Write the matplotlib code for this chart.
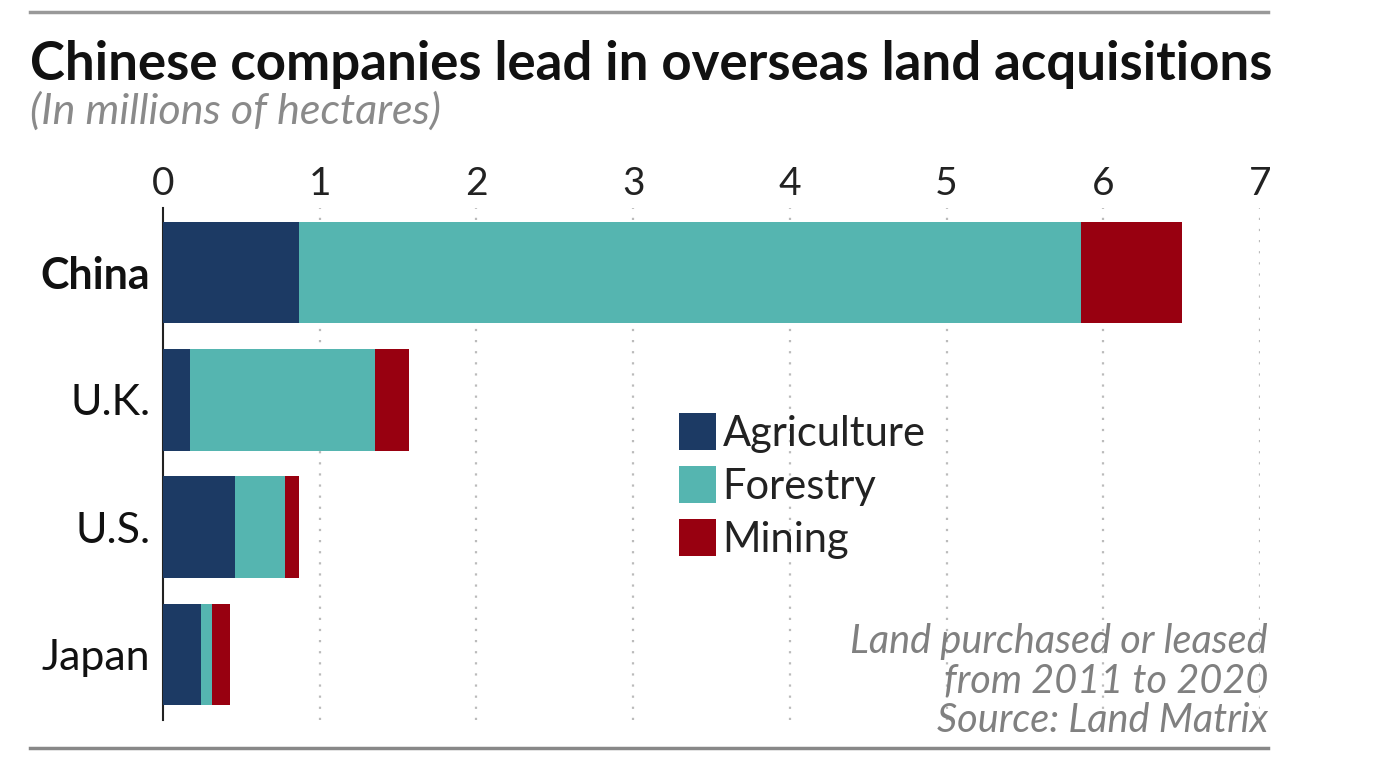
import matplotlib.pyplot as plt
from matplotlib.patches import Patch
from matplotlib.lines import Line2D

plt.rcParams['font.family'] = ['Lato', 'DejaVu Sans']

countries = ['China', 'U.K.', 'U.S.', 'Japan']
agriculture = [0.87, 0.17, 0.46, 0.24]
forestry = [4.99, 1.18, 0.32, 0.07]
mining = [0.64, 0.22, 0.09, 0.12]
sectors = ['Agriculture', 'Forestry', 'Mining']
colors = ['#1c3a64', '#55b5b0', '#980010']

fig = plt.figure(figsize=(13.78, 7.64), dpi=100)
ax = fig.add_axes([163 / 1378, 1 - 720 / 764, (1260 - 163) / 1378, 512 / 764])

ypos = list(range(len(countries)))
left = [0] * len(countries)
for vals, col in zip([agriculture, forestry, mining], colors):
    ax.barh(ypos, vals, left=left, height=0.8, color=col, zorder=3)
    left = [a + b for a, b in zip(left, vals)]

ax.set_xlim(0, 7)
ax.set_ylim(3.515, -0.507)
ax.set_xticks(range(8))
ax.xaxis.tick_top()
ax.tick_params(axis='x', length=0, pad=4, labelsize=28, labelcolor='#222222')
ax.set_yticks(ypos)
ax.set_yticklabels(countries)
ax.tick_params(axis='y', length=0, pad=9, labelsize=31, labelcolor='#111111')
for lab in ax.get_yticklabels():
    lab.set_fontweight('bold' if lab.get_text() == 'China' else 'normal')

for x in range(1, 8):
    ax.axvline(x, color='#bbbbbb', linestyle=(0, (1, 4)), linewidth=1.6, zorder=1)
for s in ['top', 'right', 'bottom']:
    ax.spines[s].set_visible(False)
ax.spines['left'].set_color('#222222')
ax.spines['left'].set_linewidth(1.5)

handles = [Patch(facecolor=c, label=s) for c, s in zip(colors, sectors)]
leg = fig.legend(handles=handles, loc='upper left', bbox_to_anchor=(662 / 1378, 1 - 396 / 764),
                 frameon=False, fontsize=30, handlelength=0.9, handleheight=1.0,
                 handletextpad=0.15, labelspacing=0.32, borderaxespad=0)
for t in leg.get_texts():
    t.set_color('#222222')

fig.text(30 / 1378, 1 - 80 / 764, 'Chinese companies lead in overseas land acquisitions',
         fontsize=38, fontweight='bold', color='#111111', va='baseline', ha='left')
fig.text(30 / 1378, 1 - 124 / 764, '(In millions of hectares)', fontsize=31,
         style='italic', color='#8a8a8a', va='baseline', ha='left')
fig.text(1268 / 1378, 1 - 732 / 764,
         'Land purchased or leased\nfrom 2011 to 2020\nSource: Land Matrix',
         fontsize=28.5, style='italic', color='#808080',
         ha='right', va='baseline', linespacing=1.08)

fig.add_artist(Line2D([30 / 1378, 1268 / 1378], [1 - 12 / 764] * 2, color='#999999', linewidth=2.5))
fig.add_artist(Line2D([30 / 1378, 1268 / 1378], [1 - 748 / 764] * 2, color='#888888', linewidth=2.5))

fig.savefig('out.png', dpi=100, facecolor='white')
